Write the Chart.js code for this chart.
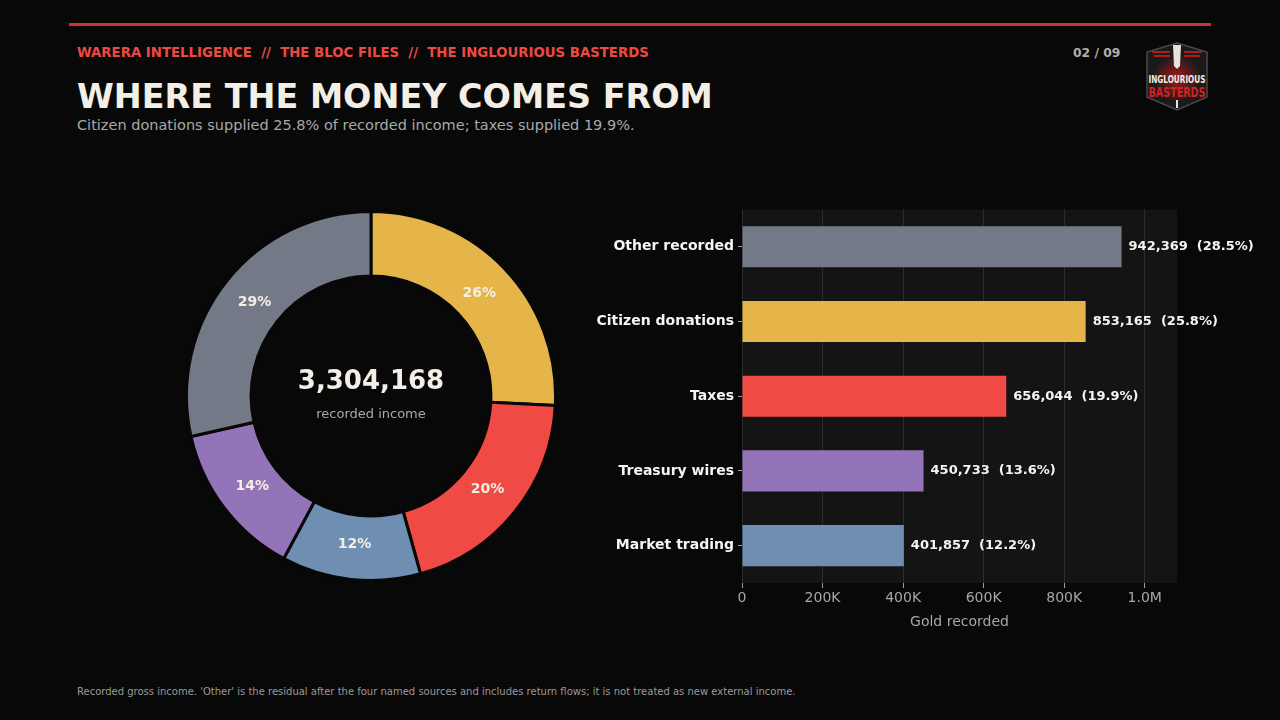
<!DOCTYPE html>
<html>
<head>
<meta charset="utf-8">
<title>Where the money comes from</title>
<script src="https://cdn.jsdelivr.net/npm/chart.js@4.4.1/dist/chart.umd.min.js"></script>
<style>
  html, body { margin: 0; padding: 0; background: #080808; }
  body { width: 1280px; height: 720px; position: relative; overflow: hidden; font-family: "DejaVu Sans", sans-serif; }
  .rule { position: absolute; left: 69px; top: 23px; width: 1142px; height: 3px; background: #d0302e; }
  .kicker { position: absolute; left: 77px; top: 45px; font-size: 13.3px; line-height: 16px; font-weight: bold; color: #ec4a42; white-space: pre; }
  .page { position: absolute; left: 1073px; top: 45px; font-size: 12.3px; line-height: 16px; font-weight: bold; color: #b0b0b0; }
  h1 { position: absolute; left: 77px; top: 77px; margin: 0; font-size: 33.4px; line-height: 40px; font-weight: bold; color: #f3efe6; }
  .sub { position: absolute; left: 77px; top: 116px; font-size: 14.5px; line-height: 18px; color: #a8a8a8; }
  .foot { position: absolute; left: 77px; top: 685px; font-size: 10px; line-height: 13px; color: #9a9a9a; }
  .logo { position: absolute; left: 1146px; top: 42px; }
  #donutBox { position: absolute; left: 185px; top: 210px; width: 372px; height: 372px; }
  #barBox { position: absolute; left: 580px; top: 197px; width: 700px; height: 443px; }
</style>
</head>
<body>
<div class="rule"></div>
<div class="kicker">WARERA INTELLIGENCE  //  THE BLOC FILES  //  THE INGLOURIOUS BASTERDS</div>
<div class="page">02 / 09</div>
<h1>WHERE THE MONEY COMES FROM</h1>
<div class="sub">Citizen donations supplied 25.8% of recorded income; taxes supplied 19.9%.</div>

<svg class="logo" width="62" height="70" viewBox="0 0 62 70">
  <defs>
    <radialGradient id="burst" cx="50%" cy="50%" r="50%">
      <stop offset="0%" stop-color="#c21a1a"/>
      <stop offset="100%" stop-color="#1b1b1b"/>
    </radialGradient>
  </defs>
  <polygon points="31,1 61,10 61,55 31,68 1,55 1,10" fill="#1a1a1a" stroke="#4a4a4a" stroke-width="1.5"/>
  <circle cx="31" cy="36" r="24" fill="url(#burst)" opacity="0.8"/>
  <rect x="6" y="9" width="18" height="2" fill="#b01c1c"/>
  <rect x="8" y="13" width="16" height="2" fill="#b01c1c"/>
  <rect x="38" y="9" width="18" height="2" fill="#b01c1c"/>
  <rect x="38" y="13" width="16" height="2" fill="#b01c1c"/>
  <path d="M27,3 L35,3 L34,24 L31,27 L28,24 Z" fill="#e8e4dc"/>
  <text x="31" y="41" text-anchor="middle" font-family="DejaVu Sans Condensed" font-weight="bold" font-size="11" fill="#f0ede6" textLength="57" lengthAdjust="spacingAndGlyphs">INGLOURIOUS</text>
  <text x="31" y="55" text-anchor="middle" font-family="DejaVu Sans Condensed" font-weight="bold" font-size="14" fill="#d42222" textLength="57" lengthAdjust="spacingAndGlyphs">BASTERDS</text>
  <rect x="30" y="58" width="2" height="8" fill="#e8e4dc"/>
</svg>

<div id="donutBox"><canvas id="donut"></canvas></div>
<div id="barBox"><canvas id="bars"></canvas></div>

<div class="foot">Recorded gross income. 'Other' is the residual after the four named sources and includes return flows; it is not treated as new external income.</div>

<script>
// bar order, top to bottom
const categories = ['Other recorded', 'Citizen donations', 'Taxes', 'Treasury wires', 'Market trading'];
const values = [942369, 853165, 656044, 450733, 401857];
const shares = [28.5, 25.8, 19.9, 13.6, 12.2];
const colors = ['#737986', '#e6b54a', '#f04a45', '#9474b8', '#6e8fb2'];

// donut goes clockwise from 12 o'clock in this order
const donutOrder = ['Citizen donations', 'Taxes', 'Market trading', 'Treasury wires', 'Other recorded'];

const totalIncome = 3304168;
const totalLabel = 'recorded income';

const xTicks = [0, 200000, 400000, 600000, 800000, 1000000];
const xTickLabels = ['0', '200K', '400K', '600K', '800K', '1.0M'];
const xMax = 1080000;

const FONT = '"DejaVu Sans", sans-serif';
const INK = '#f3efe6';
const MUTED = '#a8a8a8';

Chart.defaults.font.family = FONT;
Chart.defaults.animation = false;

const donutIdx = donutOrder.map(name => categories.indexOf(name));

const donutText = {
    id: 'donutText',
    afterDatasetsDraw(chart) {
        const { ctx } = chart;
        const meta = chart.getDatasetMeta(0);
        ctx.save();
        ctx.textAlign = 'center';
        ctx.textBaseline = 'middle';
        ctx.font = 'bold 14px ' + FONT;
        ctx.fillStyle = INK;
        meta.data.forEach((arc, i) => {
            const p = arc.getProps(['x', 'y', 'startAngle', 'endAngle', 'innerRadius', 'outerRadius']);
            const a = (p.startAngle + p.endAngle) / 2;
            const r = (p.innerRadius + p.outerRadius) / 2 - 3;
            const pct = Math.round(shares[donutIdx[i]]) + '%';
            ctx.fillText(pct, p.x + Math.cos(a) * r, p.y + Math.sin(a) * r);
        });
        // total in the hole
        const cx = (chart.chartArea.left + chart.chartArea.right) / 2;
        const cy = (chart.chartArea.top + chart.chartArea.bottom) / 2;
        ctx.font = 'bold 26px ' + FONT;
        ctx.fillText(totalIncome.toLocaleString('en-US'), cx, cy - 14);
        ctx.font = '13px ' + FONT;
        ctx.fillStyle = MUTED;
        ctx.fillText(totalLabel, cx, cy + 19);
        ctx.restore();
    }
};

new Chart(document.getElementById('donut'), {
    type: 'doughnut',
    data: {
        labels: donutOrder,
        datasets: [{
            data: donutIdx.map(i => values[i]),
            backgroundColor: donutIdx.map(i => colors[i]),
            borderColor: '#080808',
            borderWidth: 3,
            hoverOffset: 0
        }]
    },
    options: {
        responsive: true,
        maintainAspectRatio: false,
        cutout: '65%',
        layout: { padding: 0 },
        plugins: { legend: { display: false }, tooltip: { enabled: false } }
    },
    plugins: [donutText]
});

const barExtras = {
    id: 'barExtras',
    beforeDraw(chart) {
        // plot background panel
        const { ctx, chartArea: a } = chart;
        ctx.save();
        ctx.fillStyle = '#141414';
        ctx.fillRect(a.left, a.top, a.right - a.left, a.bottom - a.top);
        ctx.restore();
    },
    afterDatasetsDraw(chart) {
        const { ctx } = chart;
        const meta = chart.getDatasetMeta(0);
        ctx.save();
        ctx.font = 'bold 13px ' + FONT;
        ctx.fillStyle = '#f5f5f5';
        ctx.textAlign = 'left';
        ctx.textBaseline = 'middle';
        meta.data.forEach((bar, i) => {
            const txt = values[i].toLocaleString('en-US') + '  (' + shares[i].toFixed(1) + '%)';
            ctx.fillText(txt, bar.x + 7, bar.y);
        });
        ctx.restore();
    }
};

new Chart(document.getElementById('bars'), {
    type: 'bar',
    data: {
        labels: categories,
        datasets: [{
            data: values,
            backgroundColor: colors,
            borderWidth: 0,
            barPercentage: 0.55,
            categoryPercentage: 1
        }]
    },
    options: {
        indexAxis: 'y',
        responsive: true,
        maintainAspectRatio: false,
        layout: { padding: { top: 6, right: 103, left: 0, bottom: 0 } },
        plugins: { legend: { display: false }, tooltip: { enabled: false } },
        scales: {
            x: {
                min: 0,
                max: xMax,
                afterBuildTicks(scale) { scale.ticks = xTicks.map(v => ({ value: v })); },
                afterFit(scale) { scale.height = 57; },
                border: { display: false },
                grid: { color: '#2c2c2c', lineWidth: 1, tickLength: 5, tickColor: '#9a9a9a' },
                ticks: {
                    color: MUTED,
                    font: { size: 14 },
                    padding: 2,
                    maxRotation: 0,
                    callback: (v) => xTickLabels[xTicks.indexOf(v)]
                },
                title: {
                    display: true,
                    text: 'Gold recorded',
                    color: MUTED,
                    font: { size: 14 },
                    padding: { top: 4, bottom: 9 }
                }
            },
            y: {
                afterFit(scale) { scale.width = 162; },
                border: { display: false },
                grid: { drawOnChartArea: false, offset: false, tickLength: 4, tickColor: '#9a9a9a' },
                ticks: {
                    color: '#f5f5f5',
                    font: { size: 14, weight: 'bold' },
                    padding: 4
                }
            }
        }
    },
    plugins: [barExtras]
});
</script>
</body>
</html>
